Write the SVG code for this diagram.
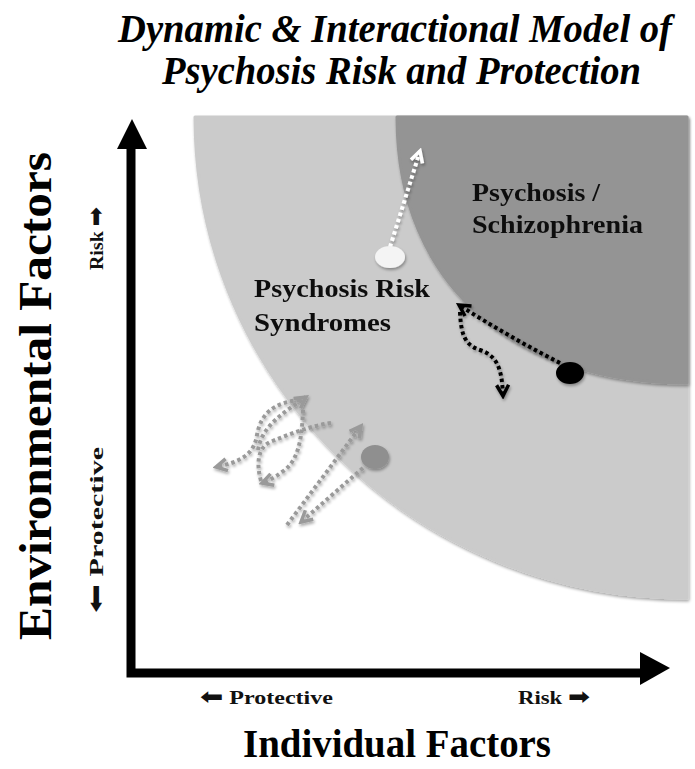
<svg xmlns="http://www.w3.org/2000/svg" width="695" height="769" viewBox="0 0 695 769">
  <style>
    .title { font-family: "Liberation Serif", serif; font-weight: bold; font-style: italic; font-size: 40px; fill: #000; }
    .axis-title { font-family: "Liberation Serif", serif; font-weight: bold; fill: #000; }
    .region { font-family: "Liberation Serif", serif; font-weight: bold; font-size: 25px; fill: #111; }
    .tick { font-family: "Liberation Serif", serif; font-weight: bold; font-size: 19px; fill: #111; }
    .sym { font-family: "DejaVu Sans", sans-serif; font-weight: bold; font-size: 22px; }
    .dots { fill: none; stroke-width: 4; stroke-dasharray: 3.5 3; stroke-linecap: butt; }
    .dots-gray { stroke: #9a9a9a; }
    .dots-black { stroke: #000; }
    .dots-white { stroke: #fff; }
  </style>
  <defs>
    <filter id="shadow" x="-20%" y="-20%" width="140%" height="140%">
      <feGaussianBlur in="SourceAlpha" stdDeviation="1.5"/>
      <feOffset dx="1" dy="2" result="b"/>
      <feComponentTransfer><feFuncA type="linear" slope="0.35"/></feComponentTransfer>
      <feMerge><feMergeNode/><feMergeNode in="SourceGraphic"/></feMerge>
    </filter>
    <marker id="head-gray" viewBox="0 0 16 16" refX="13" refY="8" markerWidth="16" markerHeight="16" markerUnits="userSpaceOnUse" orient="auto">
      <path d="M2,2 L13,8 L2,14" fill="none" stroke="#9a9a9a" stroke-width="3.5"/>
    </marker>
    <marker id="head-black" viewBox="0 0 16 16" refX="13" refY="8" markerWidth="16" markerHeight="16" markerUnits="userSpaceOnUse" orient="auto">
      <path d="M2,2 L13,8 L2,14" fill="none" stroke="#000" stroke-width="3.5"/>
    </marker>
    <marker id="head-white" viewBox="0 0 16 16" refX="13" refY="8" markerWidth="16" markerHeight="16" markerUnits="userSpaceOnUse" orient="auto">
      <path d="M2,2 L13,8 L2,14" fill="none" stroke="#fff" stroke-width="3.5"/>
    </marker>
  </defs>

  <rect width="695" height="769" fill="#fff"/>

  <!-- title -->
  <g id="title">
    <text class="title" x="118" y="42" textLength="554" lengthAdjust="spacingAndGlyphs">Dynamic &amp; Interactional Model of</text>
    <text class="title" x="162" y="84" textLength="479" lengthAdjust="spacingAndGlyphs">Psychosis Risk and Protection</text>
  </g>

  <!-- zones -->
  <g id="zone-risk-syndromes" filter="url(#shadow)">
    <path d="M195,117 L687,117 L687,598 C416,598 195,383 195,117 Z" fill="#cbcbcb" stroke="#cbcbcb" stroke-width="3" stroke-linejoin="round"/>
    <text class="region" x="254" y="297" textLength="176" lengthAdjust="spacingAndGlyphs">Psychosis Risk</text>
    <text class="region" x="254" y="331" textLength="137" lengthAdjust="spacingAndGlyphs">Syndromes</text>
  </g>
  <g id="zone-psychosis" filter="url(#shadow)">
    <path d="M397,117 L687,117 L687,383 L687,383 C517,383 397,287 397,117 Z" fill="#949494" stroke="#949494" stroke-width="3" stroke-linejoin="round"/>
    <text class="region" x="472" y="201" textLength="128" lengthAdjust="spacingAndGlyphs">Psychosis /</text>
    <text class="region" x="472" y="233" textLength="171" lengthAdjust="spacingAndGlyphs">Schizophrenia</text>
  </g>

  <!-- axes -->
  <g id="axes">
    <path d="M131,148 L131,673 L645,673" fill="none" stroke="#000" stroke-width="9"/>
    <polygon points="117,149 132,119 147,149" fill="#000"/>
    <polygon points="640,652 670,668 640,685" fill="#000"/>
  </g>
  <g id="axis-labels">
    <text class="axis-title" font-size="46" transform="translate(51,640) rotate(-90)" textLength="488" lengthAdjust="spacingAndGlyphs">Environmental Factors</text>
    <text class="axis-title" font-size="40" x="243" y="757" textLength="308" lengthAdjust="spacingAndGlyphs">Individual Factors</text>
    <text class="tick" x="200" y="704" textLength="133" lengthAdjust="spacingAndGlyphs"><tspan class="sym">⬅</tspan> Protective</text>
    <text class="tick" x="518" y="704" textLength="72" lengthAdjust="spacingAndGlyphs">Risk <tspan class="sym">➡</tspan></text>
    <text class="tick" transform="translate(103,270) rotate(-90)" textLength="63" lengthAdjust="spacingAndGlyphs">Risk <tspan class="sym">➡</tspan></text>
    <text class="tick" transform="translate(103,613) rotate(-90)" textLength="166" lengthAdjust="spacingAndGlyphs"><tspan class="sym">⬅</tspan> Protective</text>
  </g>

  <!-- trajectories -->
  <g id="connectors" filter="url(#shadow)">
    <!-- gray: protective-side movement -->
    <path class="dots dots-gray" d="M303,410 C302,440 298,462 282,472 C274,478 268,481 262,483" marker-end="url(#head-gray)"/>
    <path class="dots dots-gray" d="M300,400 C276,402 261,412 257,435 C254,455 240,462 216,467" marker-end="url(#head-gray)"/>
    <path class="dots dots-gray" d="M258,450 C 262,425 285,412 306,397" marker-end="url(#head-gray)"/>
    <path class="dots dots-gray" d="M261,481 C256,463 258,448 270,442 C290,434 310,426 331,423"/>
    <path class="dots dots-gray" d="M287,525 L361,426" marker-end="url(#head-gray)"/>
    <path class="dots dots-gray" d="M363,468 L301,522" marker-end="url(#head-gray)"/>
    <!-- white: toward psychosis -->
    <path class="dots dots-white" d="M390,247 L420,151" marker-end="url(#head-white)"/>
    <!-- black: from psychosis back -->
    <path class="dots dots-black" d="M560,363 C525,345 490,325 459,305" marker-end="url(#head-black)"/>
    <path class="dots dots-black" d="M460,312 C461,335 465,345 480,350 C498,356 502,370 503,396" marker-end="url(#head-black)"/>
  </g>

  <!-- states -->
  <g id="state-gray" filter="url(#shadow)"><ellipse cx="375" cy="457" rx="14" ry="12" fill="#8f8f8f"/></g>
  <g id="state-white" filter="url(#shadow)"><ellipse cx="390" cy="257" rx="15" ry="11" fill="#f4f4f4"/></g>
  <g id="state-black" filter="url(#shadow)"><ellipse cx="570" cy="373" rx="14" ry="11" fill="#000"/></g>
</svg>
